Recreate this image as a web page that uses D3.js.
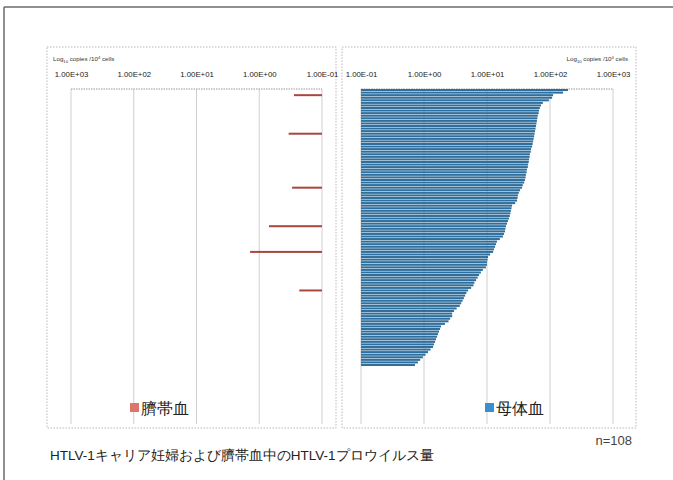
<!DOCTYPE html>
<html>
<head>
<meta charset="utf-8">
<script src="https://cdn.jsdelivr.net/npm/d3@7"></script>
<style>
  html, body { margin: 0; padding: 0; background: #fff; }
  svg { display: block; }
  text { font-family: "Liberation Sans", Arial, sans-serif; }
</style>
</head>
<body>
<svg id="chart" width="673" height="480"></svg>
<script>
// HTLV-1 proviral load (copies / 10^4 cells), one row per carrier, sorted descending
const maternal = [
  193, 161, 112, 108, 96, 77, 72, 69, 67, 66,
  64, 63, 62, 61, 60, 59, 58, 57, 56, 55,
  54, 53, 52, 50, 49.5, 48, 47.5, 46.5, 46, 45,
  44.5, 43, 42.5, 41.5, 41, 40, 39, 37, 36, 33.5,
  32, 31, 30.5, 30, 28, 25, 24.5, 24, 23.5, 23,
  22.3, 21.5, 20.8, 20, 19.6, 19.3, 18.6, 17.9, 16, 14.4,
  13.9, 13.4, 12.9, 12.5, 11.2, 10.4, 10.2, 10, 10, 9.6,
  8.6, 8, 7.5, 7.1, 6.7, 6.3, 6.1, 5.6, 5.0, 4.7,
  4.5, 4.3, 4.1, 3.9, 3.7, 3.3, 3.0, 2.8, 2.8, 2.6,
  2.45, 2.15, 1.86, 1.8, 1.73, 1.67, 1.61, 1.55, 1.5, 1.44,
  1.39, 1.27, 1.16, 1.06, 0.96, 0.87, 0.8, 0.72
];
// Cord blood: only a few rows were positive; row index into the same carrier list
const cordRows   = [2, 17, 38, 53, 63, 78];
const cordValues = [0.28, 0.34, 0.30, 0.70, 1.4, 0.23];

const tickValues = [1000, 100, 10, 1, 0.1];
const tickLabels = ["1.00E+03", "1.00E+02", "1.00E+01", "1.00E+00", "1.00E-01"];
const legendLabels = ["臍帯血", "母体血"];
const axisTitle = "copies /10";
const title = "HTLV-1キャリア妊婦および臍帯血中のHTLV-1プロウイルス量";
const sampleNote = "n=108";

const svg = d3.select("#chart");

// slide frame
svg.append("line").attr("x1", 4).attr("x2", 673).attr("y1", 7).attr("y2", 7)
  .attr("stroke", "#6a6a6a").attr("stroke-width", 1.5);
svg.append("line").attr("x1", 4).attr("x2", 4).attr("y1", 7).attr("y2", 480)
  .attr("stroke", "#6a6a6a").attr("stroke-width", 1.5);

const plotTop = 89, plotBottom = 366, gridBottom = 424;
const y = d3.scaleBand().domain(d3.range(maternal.length))
  .range([plotTop, plotBottom]).paddingInner(0.2);

const labelOf = v => tickLabels[tickValues.indexOf(v)];

function panel(opts) {
  const g = svg.append("g");
  // dotted panel border
  g.append("rect").attr("x", opts.box[0]).attr("y", opts.box[1])
    .attr("width", opts.box[2] - opts.box[0]).attr("height", opts.box[3] - opts.box[1])
    .attr("fill", "none").attr("stroke", "#b9b9b9").attr("stroke-width", 1)
    .attr("stroke-dasharray", "1.5,1.5");

  const x = opts.scale;
  // vertical gridlines
  g.selectAll(".grid").data(tickValues).join("line")
    .attr("x1", d => x(d)).attr("x2", d => x(d))
    .attr("y1", plotTop).attr("y2", gridBottom)
    .attr("stroke", "#cfcfcf").attr("stroke-width", 1);
  // dotted top of plot area
  g.append("line").attr("x1", x.range()[0]).attr("x2", x.range()[1])
    .attr("y1", plotTop).attr("y2", plotTop)
    .attr("stroke", "#9a9a9a").attr("stroke-dasharray", "1.5,1");

  // tick labels via axis
  const ax = g.append("g").attr("transform", `translate(0,${plotTop - 9})`)
    .call(d3.axisTop(x).tickValues(tickValues).tickFormat(labelOf).tickSize(0));
  ax.select(".domain").remove();
  ax.selectAll("text").attr("font-size", 7.8).attr("fill", "#1a1a1a")
    .attr("font-family", "Liberation Sans, Arial, sans-serif");

  // axis title: Log10 copies /10^4 cells
  const t = g.append("text").attr("x", opts.titleX).attr("y", 61)
    .attr("font-size", 6.2).attr("fill", "#333").attr("text-anchor", opts.titleAnchor);
  t.append("tspan").text("Log");
  t.append("tspan").attr("font-size", 4.2).attr("dy", 1.5).text("10");
  t.append("tspan").attr("dy", -1.5).text(" " + axisTitle);
  t.append("tspan").attr("font-size", 4.2).attr("dy", -2).text("4");
  t.append("tspan").attr("dy", 2).text(" cells");

  // legend
  g.append("rect").attr("x", opts.legendX).attr("y", 403).attr("width", 9).attr("height", 9)
    .attr("fill", opts.legendColor);
  g.append("text").attr("x", opts.legendX + 11).attr("y", 413.5)
    .attr("font-family", "Noto Sans CJK JP, sans-serif").attr("font-size", 15.5)
    .attr("fill", "#222").text(opts.legendText);
  return g;
}

// left panel: cord blood, axis reversed so bars grow leftward from 0.1
const xCord = d3.scaleLog().domain([1000, 0.1]).range([71, 322]);
const gl = panel({ box: [47, 47, 336, 428], scale: xCord, titleX: 53, titleAnchor: "start",
  legendX: 130, legendColor: "#dc766d", legendText: legendLabels[0] });
gl.selectAll(".cord").data(cordRows).join("rect")
  .attr("x", (d, i) => xCord(cordValues[i]))
  .attr("width", (d, i) => xCord(0.1) - xCord(cordValues[i]))
  .attr("y", d => y(d) + (y.bandwidth() - 2) / 2)
  .attr("height", 2)
  .attr("fill", "#a9473f");

// right panel: maternal blood
const xMat = d3.scaleLog().domain([0.1, 1000]).range([361, 613]);
const gr = panel({ box: [342, 47, 636, 428], scale: xMat, titleX: 628, titleAnchor: "end",
  legendX: 485, legendColor: "#3a90cf", legendText: legendLabels[1] });
gr.selectAll(".mat").data(maternal).join("rect")
  .attr("x", xMat(0.1))
  .attr("width", d => xMat(d) - xMat(0.1))
  .attr("y", (d, i) => y(i))
  .attr("height", y.bandwidth())
  .attr("fill", "#2f6f9e");

// footer
svg.append("text").attr("x", 632).attr("y", 445).attr("text-anchor", "end")
  .attr("font-size", 13).attr("fill", "#444").text(sampleNote);
svg.append("text").attr("x", 50).attr("y", 460)
  .attr("font-family", "Noto Sans CJK JP, sans-serif").attr("font-size", 13.5)
  .attr("fill", "#222").text(title);
</script>
</body>
</html>
